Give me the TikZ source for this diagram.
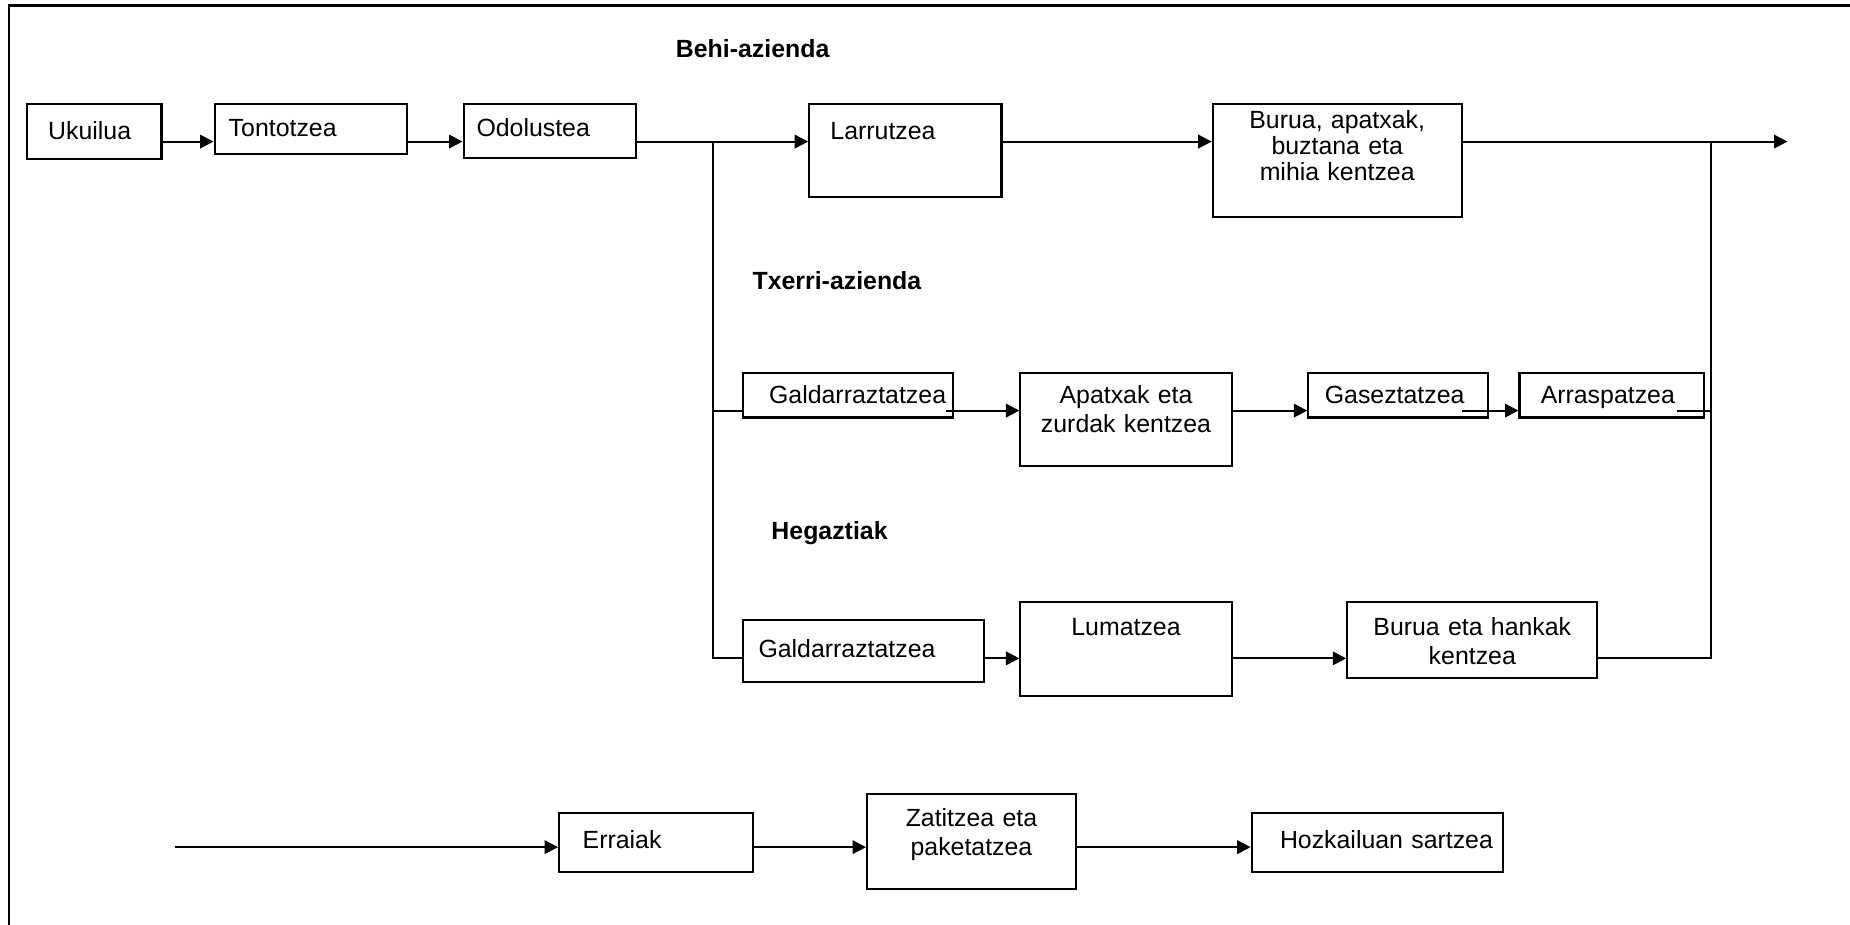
\documentclass[tikz,border=0pt]{standalone}
\usepackage{fontspec}
\setmainfont{Liberation Sans}
\usepackage{tikz}
\usetikzlibrary{arrows.meta}

\begin{document}
\begin{tikzpicture}[
    x=0.02cm, y=-0.02cm,
    line width=1pt,
    >={Triangle[length=6.5pt,width=6.5pt]},
    stepbox/.style={draw, anchor=north west, inner ysep=0pt, inner xsep=0pt,
        font=\fontsize{12}{14}\selectfont},
    leftbox/.style n args={4}{stepbox, align=left, inner xsep=#1,
        text width=#2, text height=#3, text depth=#4},
    midbox/.style n args={3}{stepbox, align=center,
        text width=#1, text height=#2, text depth=#3},
    grouplabel/.style={anchor=base west, inner sep=0pt,
        font=\fontsize{12}{14}\selectfont\bfseries}
]
\useasboundingbox (0,0) rectangle (1568,784);
\draw[line width=1.2pt] (7.5,784) -- (7.5,4.5) -- (1568,4.5);

\node[grouplabel] (behi) at (572,49) {Behi-azienda};
\node[grouplabel] (txerri) at (637,245) {Txerri-azienda};
\node[grouplabel] (hegazti) at (653,457) {Hegaztiak};

\node[leftbox={0.36cm}{1.56cm}{0.6cm}{0.34cm}] (ukuilua) at (22,87) {Ukuilua};
\node[leftbox={0.24cm}{2.78cm}{0.56cm}{0.3cm}] (tonto) at (181,87) {Tontotzea};
\node[leftbox={0.22cm}{2.48cm}{0.56cm}{0.36cm}] (odol) at (392,87) {Odolustea};
\node[leftbox={0.36cm}{2.54cm}{0.6cm}{0.98cm}] (larru) at (685,87) {Larrutzea};
\node[midbox={4.22cm}{0.42cm}{1.5cm}, font=\fontsize{12}{12.5}\selectfont] (burua) at (1027,87) {Burua, apatxak,\\ buztana eta\\ mihia kentzea};

\node[leftbox={0.44cm}{2.68cm}{0.52cm}{0.24cm}] (gald1) at (629,315) {Galdarraztatzea};
\node[midbox={3.58cm}{0.52cm}{1.06cm}] (apatx) at (864,315) {Apatxak eta\\ zurdak kentzea};
\node[leftbox={0.28cm}{2.48cm}{0.52cm}{0.24cm}] (gasez) at (1108,315) {Gaseztatzea};
\node[leftbox={0.36cm}{2.4cm}{0.52cm}{0.24cm}] (arras) at (1287,315) {Arraspatzea};

\node[leftbox={0.26cm}{3.56cm}{0.62cm}{0.42cm}] (gald2) at (629,525) {Galdarraztatzea};
\node[midbox={3.58cm}{0.58cm}{1.02cm}] (lumat) at (864,509) {Lumatzea};
\node[midbox={4.24cm}{0.58cm}{0.72cm}] (burha) at (1141,509) {Burua eta hankak\\ kentzea};

\node[leftbox={0.4cm}{2.48cm}{0.6cm}{0.4cm}] (erraiak) at (473,688) {Erraiak};
\node[midbox={3.54cm}{0.56cm}{1.06cm}] (zatit) at (734,672) {Zatitzea eta\\ paketatzea};
\node[leftbox={0.48cm}{3.3cm}{0.6cm}{0.4cm}] (hozka) at (1060,688) {\mbox{Hozkailuan sartzea}};

\coordinate (cow) at (0,120);
\coordinate (pig) at (0,348);
\coordinate (bird) at (0,558);
\coordinate (meat) at (0,718);
\coordinate (split) at (604,120);
\coordinate (join) at (1450,120);
\coordinate (out) at (1515,120);
\coordinate (in) at (148,718);

\draw[->] (ukuilua.east |- cow) -- (tonto.west |- cow);
\draw[->] (tonto.east |- cow) -- (odol.west |- cow);
\draw[->] (odol.east |- cow) -- (larru.west |- cow);
\draw[->] (larru.east |- cow) -- (burua.west |- cow);
\draw[->] (burua.east |- cow) -- (out);

\draw (split) -- (split |- bird) -- (gald2.west |- bird);
\draw (split |- pig) -- (gald1.west |- pig);
\draw[->] ([xshift=-0.14cm]gald1.east |- pig) -- (apatx.west |- pig);
\draw[->] (apatx.east |- pig) -- (gasez.west |- pig);
\draw[->] ([xshift=-0.46cm]gasez.east |- pig) -- (arras.west |- pig);
\draw ([xshift=-0.46cm]arras.east |- pig) -- (join |- pig);

\draw[->] (gald2.east |- bird) -- (lumat.west |- bird);
\draw[->] (lumat.east |- bird) -- (burha.west |- bird);
\draw (burha.east |- bird) -- (join |- bird) -- (join);

\draw[->] (in) -- (erraiak.west |- meat);
\draw[->] (erraiak.east |- meat) -- (zatit.west |- meat);
\draw[->] (zatit.east |- meat) -- (hozka.west |- meat);
\end{tikzpicture}
\end{document}
